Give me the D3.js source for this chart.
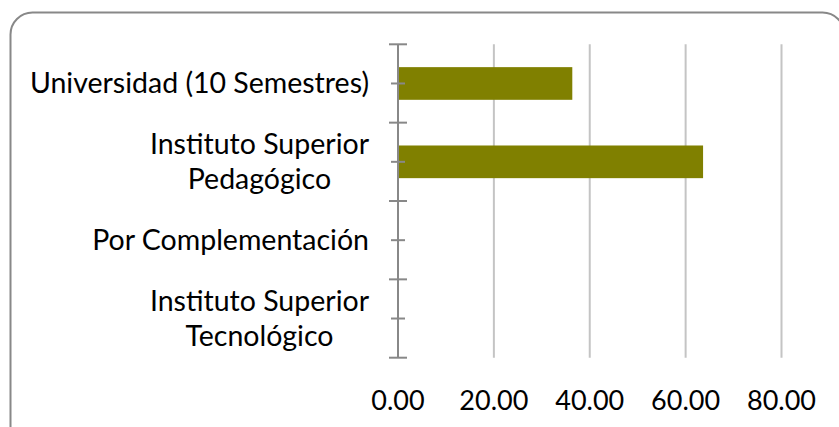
<!DOCTYPE html>
<html>
<head>
<meta charset="utf-8">
<script src="https://cdn.jsdelivr.net/npm/d3@7"></script>
<style>
  body { margin: 0; background: #fff; }
  text { font-family: Lato, "Open Sans", sans-serif; fill: #000; }
</style>
</head>
<body>
<div class="chart"></div>
<script>
var width = 839,
    height = 427;

// data
var categories = [
    ["Universidad (10 Semestres)"],
    ["Instituto Superior", "Pedagógico"],
    ["Por Complementación"],
    ["Instituto Superior", "Tecnológico"]
];
var values = [36.36, 63.64, 0, 0];
var xTicks = [0, 20, 40, 60, 80];

var plot = { left: 398, right: 781.5, top: 44.3, bottom: 357.7 };

var svg = d3.select(".chart").append("svg")
    .attr("width", width)
    .attr("height", height);

// chart border
svg.append("rect")
    .attr("x", 10.5)
    .attr("y", 12.5)
    .attr("width", 834)
    .attr("height", 440)
    .attr("rx", 22)
    .style("fill", "white")
    .style("stroke", "#888")
    .style("stroke-width", 2);

var x = d3.scaleLinear()
    .domain([0, 80])
    .range([plot.left, plot.right]);

var y = d3.scaleBand()
    .domain(d3.range(categories.length))
    .range([plot.top, plot.bottom])
    .paddingInner(0.583)
    .paddingOuter(0.2915);

var yBoundary = d3.scalePoint()
    .domain(d3.range(categories.length + 1))
    .range([plot.top, plot.bottom]);

// gridlines
svg.append("g")
    .selectAll("line")
    .data(xTicks.filter(d => d > 0))
    .enter().append("line")
    .attr("x1", d => x(d))
    .attr("x2", d => x(d))
    .attr("y1", plot.top)
    .attr("y2", plot.bottom)
    .style("stroke", "#c4c4c4")
    .style("stroke-width", 2);

// bars
svg.append("g")
    .selectAll("rect")
    .data(values)
    .enter().append("rect")
    .attr("x", x(0))
    .attr("y", (d, i) => y(i))
    .attr("width", d => x(d) - x(0))
    .attr("height", y.bandwidth())
    .style("fill", "#808000");

// category axis
var axis = svg.append("g").style("stroke", "#888").style("stroke-width", 2);

axis.append("line")
    .attr("x1", plot.left)
    .attr("x2", plot.left)
    .attr("y1", plot.top)
    .attr("y2", plot.bottom);

axis.selectAll(".major")
    .data(d3.range(categories.length + 1))
    .enter().append("line")
    .attr("x1", plot.left - 9)
    .attr("x2", plot.left + 9)
    .attr("y1", d => yBoundary(d))
    .attr("y2", d => yBoundary(d));

axis.selectAll(".minor")
    .data(d3.range(categories.length))
    .enter().append("line")
    .attr("x1", plot.left - 7)
    .attr("x2", plot.left + 7)
    .attr("y1", (d, i) => y(i) + y.bandwidth() / 2)
    .attr("y2", (d, i) => y(i) + y.bandwidth() / 2);

// category labels
var lineH = 35;
var labels = svg.append("g")
    .selectAll("text")
    .data(categories)
    .enter().append("text")
    .style("font-size", "28.5px")
    .attr("y", (d, i) => y(i) + y.bandwidth() / 2 + 10 - (d.length - 1) * lineH / 2);

labels.each(function (d) {
    var t = d3.select(this);
    d.forEach(function (line, j) {
        t.append("tspan")
            .attr("x", 0)
            .attr("dy", j === 0 ? 0 : lineH)
            .text(line);
    });
});

// right-align each block, centre its lines within it
labels.each(function () {
    var t = d3.select(this);
    var widths = [];
    t.selectAll("tspan").each(function () { widths.push(this.getComputedTextLength()); });
    var w = d3.max(widths);
    t.selectAll("tspan").attr("x", (d, j) => 369 - w + (w - widths[j]) / 2);
});

// value axis labels
svg.append("g")
    .selectAll("text")
    .data(xTicks)
    .enter().append("text")
    .attr("x", d => x(d))
    .attr("y", 410)
    .attr("text-anchor", "middle")
    .style("font-size", "27px")
    .text(d => d3.format(".2f")(d));
</script>
</body>
</html>
